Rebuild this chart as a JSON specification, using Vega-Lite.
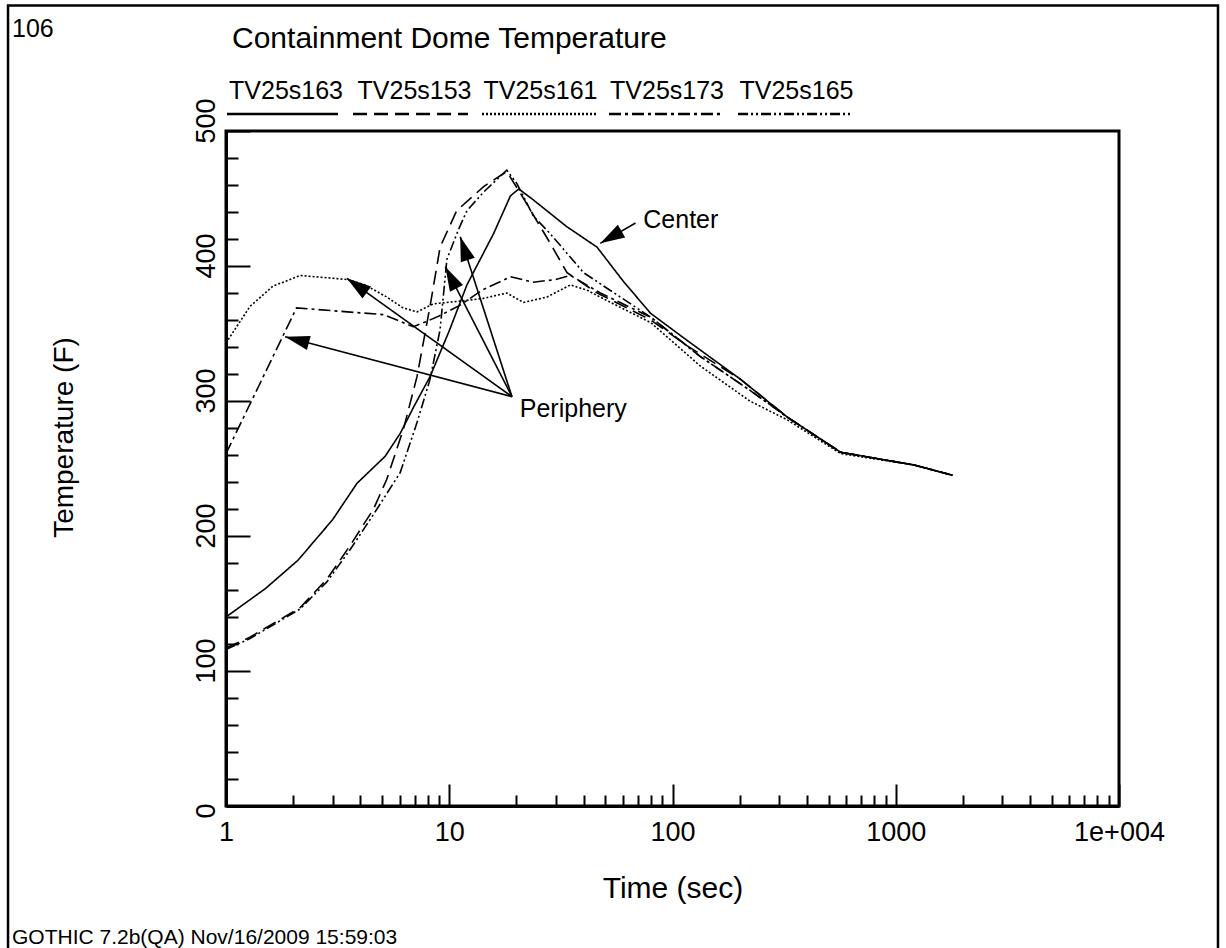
{
  "$schema": "https://vega.github.io/schema/vega-lite/v6.json",
  "width": 893,
  "height": 675,
  "autosize": {"type": "none"},
  "padding": {"left": 226, "top": 131, "right": 107, "bottom": 142},
  "background": "white",
  "config": {
    "font": "Liberation Sans",
    "view": {"stroke": "black", "strokeWidth": 3},
    "axis": {"grid": false, "domainColor": "black", "tickColor": "black", "labelColor": "black", "titleColor": "black", "titleFontWeight": "normal", "labelFont": "Liberation Sans", "titleFont": "Liberation Sans"}
  },
  "datasets": {
    "curves": [
      {"s": "TV25s163", "t": 1, "T": 140}, {"s": "TV25s163", "t": 1.5, "T": 161}, {"s": "TV25s163", "t": 2.1, "T": 182}, {"s": "TV25s163", "t": 3, "T": 212}, {"s": "TV25s163", "t": 3.86, "T": 239}, {"s": "TV25s163", "t": 5.16, "T": 259}, {"s": "TV25s163", "t": 6.03, "T": 276}, {"s": "TV25s163", "t": 7, "T": 297}, {"s": "TV25s163", "t": 8.2, "T": 318}, {"s": "TV25s163", "t": 10, "T": 352}, {"s": "TV25s163", "t": 12, "T": 386}, {"s": "TV25s163", "t": 15.8, "T": 424}, {"s": "TV25s163", "t": 18.8, "T": 452}, {"s": "TV25s163", "t": 20.5, "T": 457}, {"s": "TV25s163", "t": 23.8, "T": 449}, {"s": "TV25s163", "t": 33.7, "T": 429}, {"s": "TV25s163", "t": 45.9, "T": 414}, {"s": "TV25s163", "t": 60, "T": 389}, {"s": "TV25s163", "t": 79.7, "T": 365}, {"s": "TV25s163", "t": 116, "T": 345}, {"s": "TV25s163", "t": 202, "T": 316}, {"s": "TV25s163", "t": 327, "T": 288}, {"s": "TV25s163", "t": 567, "T": 262}, {"s": "TV25s163", "t": 1208, "T": 252.6}, {"s": "TV25s163", "t": 1795, "T": 245},
      {"s": "TV25s153", "t": 1, "T": 117}, {"s": "TV25s153", "t": 1.28, "T": 125}, {"s": "TV25s153", "t": 2.15, "T": 147}, {"s": "TV25s153", "t": 2.83, "T": 168}, {"s": "TV25s153", "t": 3.6, "T": 193}, {"s": "TV25s153", "t": 4.58, "T": 220}, {"s": "TV25s153", "t": 5.25, "T": 242}, {"s": "TV25s153", "t": 6.23, "T": 279}, {"s": "TV25s153", "t": 7.17, "T": 318}, {"s": "TV25s153", "t": 8.2, "T": 370}, {"s": "TV25s153", "t": 9.1, "T": 414}, {"s": "TV25s153", "t": 10.8, "T": 441}, {"s": "TV25s153", "t": 14.3, "T": 459}, {"s": "TV25s153", "t": 18.1, "T": 470}, {"s": "TV25s153", "t": 20.8, "T": 454}, {"s": "TV25s153", "t": 28.3, "T": 417}, {"s": "TV25s153", "t": 33.7, "T": 395}, {"s": "TV25s153", "t": 46, "T": 380}, {"s": "TV25s153", "t": 80, "T": 360}, {"s": "TV25s153", "t": 116, "T": 341}, {"s": "TV25s153", "t": 202, "T": 316}, {"s": "TV25s153", "t": 327, "T": 288}, {"s": "TV25s153", "t": 567, "T": 262}, {"s": "TV25s153", "t": 1208, "T": 252.6}, {"s": "TV25s153", "t": 1795, "T": 245},
      {"s": "TV25s161", "t": 1, "T": 343}, {"s": "TV25s161", "t": 1.28, "T": 370}, {"s": "TV25s161", "t": 1.62, "T": 385}, {"s": "TV25s161", "t": 2.15, "T": 393}, {"s": "TV25s161", "t": 3.48, "T": 390}, {"s": "TV25s161", "t": 4.2, "T": 386}, {"s": "TV25s161", "t": 5.25, "T": 377}, {"s": "TV25s161", "t": 6.2, "T": 369}, {"s": "TV25s161", "t": 7.17, "T": 366}, {"s": "TV25s161", "t": 8.5, "T": 372}, {"s": "TV25s161", "t": 11.2, "T": 374}, {"s": "TV25s161", "t": 14.2, "T": 376}, {"s": "TV25s161", "t": 18.1, "T": 380}, {"s": "TV25s161", "t": 21.5, "T": 373}, {"s": "TV25s161", "t": 27.4, "T": 377}, {"s": "TV25s161", "t": 34.9, "T": 386}, {"s": "TV25s161", "t": 41.5, "T": 382}, {"s": "TV25s161", "t": 50, "T": 375}, {"s": "TV25s161", "t": 80, "T": 358}, {"s": "TV25s161", "t": 133, "T": 326}, {"s": "TV25s161", "t": 222, "T": 300}, {"s": "TV25s161", "t": 327, "T": 286}, {"s": "TV25s161", "t": 567, "T": 261}, {"s": "TV25s161", "t": 1208, "T": 252.6}, {"s": "TV25s161", "t": 1795, "T": 245},
      {"s": "TV25s173", "t": 1, "T": 261}, {"s": "TV25s173", "t": 2.07, "T": 369}, {"s": "TV25s173", "t": 3.5, "T": 366}, {"s": "TV25s173", "t": 5.08, "T": 364}, {"s": "TV25s173", "t": 6.9, "T": 355}, {"s": "TV25s173", "t": 7.94, "T": 359}, {"s": "TV25s173", "t": 9, "T": 363}, {"s": "TV25s173", "t": 11.2, "T": 371}, {"s": "TV25s173", "t": 14, "T": 382}, {"s": "TV25s173", "t": 18.8, "T": 392}, {"s": "TV25s173", "t": 23.8, "T": 388}, {"s": "TV25s173", "t": 30, "T": 390}, {"s": "TV25s173", "t": 34.9, "T": 393}, {"s": "TV25s173", "t": 47.5, "T": 380}, {"s": "TV25s173", "t": 80, "T": 362}, {"s": "TV25s173", "t": 133, "T": 333}, {"s": "TV25s173", "t": 222, "T": 308}, {"s": "TV25s173", "t": 327, "T": 288}, {"s": "TV25s173", "t": 567, "T": 262}, {"s": "TV25s173", "t": 1208, "T": 252.6}, {"s": "TV25s173", "t": 1795, "T": 245},
      {"s": "TV25s165", "t": 1, "T": 116}, {"s": "TV25s165", "t": 1.28, "T": 124}, {"s": "TV25s165", "t": 2.15, "T": 146}, {"s": "TV25s165", "t": 2.83, "T": 166}, {"s": "TV25s165", "t": 3.6, "T": 190}, {"s": "TV25s165", "t": 4.58, "T": 216}, {"s": "TV25s165", "t": 6.03, "T": 247}, {"s": "TV25s165", "t": 7.17, "T": 284}, {"s": "TV25s165", "t": 8.2, "T": 316}, {"s": "TV25s165", "t": 9.1, "T": 353}, {"s": "TV25s165", "t": 9.76, "T": 405}, {"s": "TV25s165", "t": 11, "T": 427}, {"s": "TV25s165", "t": 12, "T": 441}, {"s": "TV25s165", "t": 14.3, "T": 455}, {"s": "TV25s165", "t": 18.1, "T": 471}, {"s": "TV25s165", "t": 20.1, "T": 461}, {"s": "TV25s165", "t": 23.8, "T": 437}, {"s": "TV25s165", "t": 28.3, "T": 424}, {"s": "TV25s165", "t": 40, "T": 395}, {"s": "TV25s165", "t": 80, "T": 362}, {"s": "TV25s165", "t": 133, "T": 333}, {"s": "TV25s165", "t": 222, "T": 308}, {"s": "TV25s165", "t": 327, "T": 288}, {"s": "TV25s165", "t": 567, "T": 262}, {"s": "TV25s165", "t": 1208, "T": 252.6}, {"s": "TV25s165", "t": 1795, "T": 245}
    ],
    "legendLines": [
      {"s": "TV25s163", "t": 1.0104, "t2": 3.175, "T": 512.6},
      {"s": "TV25s153", "t": 3.707, "t2": 12.13, "T": 512.6},
      {"s": "TV25s161", "t": 14.02, "t2": 45.9, "T": 512.6},
      {"s": "TV25s173", "t": 51.94, "t2": 166.6, "T": 512.6},
      {"s": "TV25s165", "t": 196.6, "t2": 623.7, "T": 512.6}
    ],
    "legendLabels": [
      {"s": "TV25s163", "t": 1.857, "T": 523.7},
      {"s": "TV25s153", "t": 6.99, "T": 523.7},
      {"s": "TV25s161", "t": 25.63, "T": 523.7},
      {"s": "TV25s173", "t": 94.5, "T": 523.7},
      {"s": "TV25s165", "t": 359.3, "T": 523.7}
    ],
    "arrows": [
      {"t": 19.1, "T": 303.2, "t2": 1.84, "T2": 347.6},
      {"t": 19.1, "T": 303.2, "t2": 3.48, "T2": 390.9},
      {"t": 19.1, "T": 303.2, "t2": 9.6, "T2": 399.5},
      {"t": 19.1, "T": 303.2, "t2": 11.2, "T2": 421.7},
      {"t": 68.3, "T": 431.9, "t2": 47.5, "T2": 416.8}
    ],
    "notes": [
      {"label": "Periphery", "t": 20.7, "T": 288.4},
      {"label": "Center", "t": 74.0, "T": 427.9},
      {"label": "106", "t": 0.110, "T": 569.6}
    ],
    "titleText": [{"label": "Containment Dome Temperature", "t": 1.064, "T": 561.5}],
    "footer": [{"label": "GOTHIC 7.2b(QA) Nov/16/2009 15:59:03", "t": 0.110, "T": -102.2}],
    "border": [{"t": 0.1056, "t2": 27760, "T": 593, "T2": -110}]
  },
  "resolve": {"axis": {"x": "independent", "y": "independent"}},
  "layer": [
    {
      "data": {"name": "curves"},
      "mark": {"type": "line", "color": "black", "strokeWidth": 1.6, "clip": false},
      "encoding": {
        "x": {"field": "t", "type": "quantitative", "scale": {"type": "log", "domain": [1, 10000], "nice": false},
          "axis": {"orient": "bottom", "values": [1, 10, 100, 1000, 10000], "labelExpr": "datum.value >= 10000 ? '1e+004' : format(datum.value, 'd')", "tickSize": -22, "tickWidth": 2, "domainWidth": 3, "labelFontSize": 27, "labelPadding": 35, "labelBaseline": "top", "labelAlign": "center", "labelFlush": false, "labelOverlap": false, "title": "Time (sec)", "titleFontSize": 30, "titleX": 446.5, "titleY": 91, "titleAlign": "center", "titleBaseline": "alphabetic"}},
        "y": {"field": "T", "type": "quantitative", "scale": {"domain": [0, 500], "nice": false, "zero": false},
          "axis": {"orient": "left", "values": [0, 100, 200, 300, 400, 500], "tickSize": -24, "tickWidth": 2, "domainWidth": 3, "labelFontSize": 27, "labelAngle": 270, "labelAlign": "left", "labelBaseline": "alphabetic", "labelOffset": 12, "labelPadding": 36, "labelFlush": false, "labelOverlap": false, "title": "Temperature (F)", "titleFontSize": 28, "titleAngle": 270, "titleX": -154, "titleY": 306, "titleAlign": "center", "titleBaseline": "alphabetic"}},
        "detail": {"field": "s"},
        "strokeDash": {"field": "s", "type": "nominal", "legend": null,
          "scale": {"domain": ["TV25s163", "TV25s153", "TV25s161", "TV25s173", "TV25s165"], "range": [[1, 0], [14, 7], [2, 2], [12, 4, 3, 4], [10, 3, 2, 3, 2, 3]]}}
      }
    },
    {
      "data": {"name": "legendLines"},
      "mark": {"type": "rule", "color": "black", "strokeWidth": 2.5, "clip": false},
      "encoding": {
        "x": {"field": "t", "type": "quantitative", "scale": {"type": "log", "domain": [1, 10000], "nice": false},
          "axis": {"orient": "bottom", "values": [2, 3, 4, 5, 6, 7, 8, 9, 20, 30, 40, 50, 60, 70, 80, 90, 200, 300, 400, 500, 600, 700, 800, 900, 2000, 3000, 4000, 5000, 6000, 7000, 8000, 9000], "tickSize": -11, "tickWidth": 2, "labels": false, "domain": false, "title": null}},
        "x2": {"field": "t2"},
        "y": {"field": "T", "type": "quantitative", "scale": {"domain": [0, 500], "nice": false, "zero": false},
          "axis": {"orient": "left", "values": [20, 40, 60, 80, 120, 140, 160, 180, 220, 240, 260, 280, 320, 340, 360, 380, 420, 440, 460, 480], "tickSize": -12, "tickWidth": 2, "labels": false, "domain": false, "title": null}},
        "strokeDash": {"field": "s", "type": "nominal", "legend": null}
      }
    },
    {
      "data": {"name": "legendLabels"},
      "mark": {"type": "text", "color": "black", "fontSize": 25, "align": "center", "baseline": "alphabetic", "clip": false},
      "encoding": {
        "x": {"field": "t", "type": "quantitative", "scale": {"type": "log", "domain": [1, 10000], "nice": false}, "axis": null},
        "y": {"field": "T", "type": "quantitative", "scale": {"domain": [0, 500], "nice": false, "zero": false}, "axis": null},
        "text": {"field": "s"}
      }
    },
    {
      "data": {"name": "arrows"},
      "mark": {"type": "rule", "color": "black", "strokeWidth": 1.6, "clip": false},
      "encoding": {
        "x": {"field": "t", "type": "quantitative", "scale": {"type": "log", "domain": [1, 10000], "nice": false}, "axis": null},
        "x2": {"field": "t2"},
        "y": {"field": "T", "type": "quantitative", "scale": {"domain": [0, 500], "nice": false, "zero": false}, "axis": null},
        "y2": {"field": "T2"}
      }
    },
    {
      "data": {"name": "arrows"},
      "transform": [{"calculate": "atan2(223.25 * log(datum.t2 / datum.t) / LN10, 1.35 * (datum.T2 - datum.T)) * 180 / PI", "as": "heading"}],
      "mark": {"type": "point", "shape": "M0,0L-0.3,1L0.3,1Z", "filled": true, "color": "black", "opacity": 1, "size": 2400, "clip": false},
      "encoding": {
        "x": {"field": "t2", "type": "quantitative", "scale": {"type": "log", "domain": [1, 10000], "nice": false}, "axis": null},
        "y": {"field": "T2", "type": "quantitative", "scale": {"domain": [0, 500], "nice": false, "zero": false}, "axis": null},
        "angle": {"field": "heading", "type": "quantitative", "scale": null}
      }
    },
    {
      "data": {"name": "notes"},
      "mark": {"type": "text", "color": "black", "fontSize": 25, "align": "left", "baseline": "alphabetic", "clip": false},
      "encoding": {
        "x": {"field": "t", "type": "quantitative", "scale": {"type": "log", "domain": [1, 10000], "nice": false}, "axis": null},
        "y": {"field": "T", "type": "quantitative", "scale": {"domain": [0, 500], "nice": false, "zero": false}, "axis": null},
        "text": {"field": "label"}
      }
    },
    {
      "data": {"name": "titleText"},
      "mark": {"type": "text", "color": "black", "fontSize": 30, "align": "left", "baseline": "alphabetic", "clip": false},
      "encoding": {
        "x": {"field": "t", "type": "quantitative", "scale": {"type": "log", "domain": [1, 10000], "nice": false}, "axis": null},
        "y": {"field": "T", "type": "quantitative", "scale": {"domain": [0, 500], "nice": false, "zero": false}, "axis": null},
        "text": {"field": "label"}
      }
    },
    {
      "data": {"name": "footer"},
      "mark": {"type": "text", "color": "black", "fontSize": 21, "align": "left", "baseline": "alphabetic", "clip": false},
      "encoding": {
        "x": {"field": "t", "type": "quantitative", "scale": {"type": "log", "domain": [1, 10000], "nice": false}, "axis": null},
        "y": {"field": "T", "type": "quantitative", "scale": {"domain": [0, 500], "nice": false, "zero": false}, "axis": null},
        "text": {"field": "label"}
      }
    },
    {
      "data": {"name": "border"},
      "mark": {"type": "rect", "filled": false, "stroke": "black", "strokeWidth": 2.5, "fill": null, "clip": false},
      "encoding": {
        "x": {"field": "t", "type": "quantitative", "scale": {"type": "log", "domain": [1, 10000], "nice": false}, "axis": null},
        "x2": {"field": "t2"},
        "y": {"field": "T", "type": "quantitative", "scale": {"domain": [0, 500], "nice": false, "zero": false}, "axis": null},
        "y2": {"field": "T2"}
      }
    }
  ]
}
